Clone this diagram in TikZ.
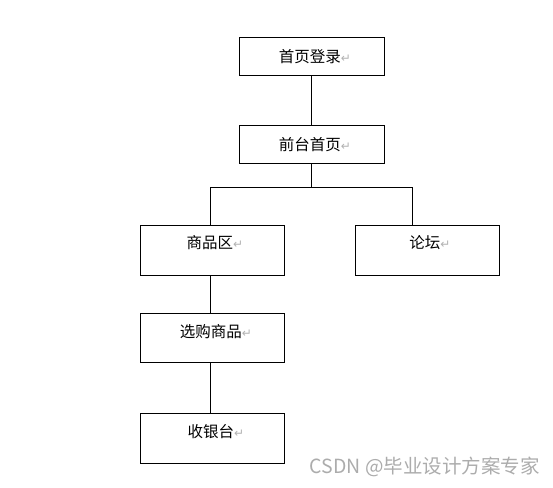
\documentclass[tikz,border=0pt]{standalone}
\usepackage{fontspec}
\setmainfont{Noto Sans CJK SC}
\newfontfamily\symfont{DejaVu Sans}
\newcommand{\rmark}{{\symfont\fontsize{12}{12}\selectfont\color{gray!60}\raisebox{0pt}{↵}}}
\begin{document}
\begin{tikzpicture}[x=1pt,y=-1pt,
  box/.style={draw=black,line width=1pt,inner sep=0pt,anchor=north west},
  lbl/.style={inner sep=0pt,font=\fontsize{15.5}{18}\selectfont},
  conn/.style={draw=black,line width=1pt}]
\useasboundingbox (0,0) rectangle (553,487);
\node[box,minimum width=145pt,minimum height=37pt] (b1) at (238.5,37.5) {};
\node[box,minimum width=145pt,minimum height=38pt] (b2) at (238.5,124.5) {};
\node[box,minimum width=144pt,minimum height=50pt] (b3) at (139.5,224.5) {};
\node[box,minimum width=144pt,minimum height=50pt] (b4) at (354.5,224.5) {};
\node[box,minimum width=144pt,minimum height=49pt] (b5) at (139.5,312.5) {};
\node[box,minimum width=144pt,minimum height=50pt] (b6) at (139.5,412.5) {};
\node[lbl] (t1) at (315,57) {首页登录\rmark};
\node[lbl] (t2) at (315,145) {前台首页\rmark};
\node[lbl] (t3) at (215,243) {商品区\rmark};
\node[lbl] (t4) at (430,243) {论坛\rmark};
\node[lbl] (t5) at (216,332) {选购商品\rmark};
\node[lbl] (t6) at (216,432) {收银台\rmark};
\coordinate (j) at (311.5,187.5);
\coordinate (jl) at (210.5,187.5);
\coordinate (jr) at (412.5,187.5);
\draw[conn] (b1.south -| j) -- (b2.north -| j);
\draw[conn] (b2.south -| j) -- (j);
\draw[conn] (b3.north -| jl) |- (jr) -- (b4.north -| jr);
\draw[conn] (b3.south -| jl) -- (b5.north -| jl);
\draw[conn] (b5.south -| jl) -- (b6.north -| jl);
\node[inner sep=0pt,anchor=east,text=gray!65,font=\fontsize{19.5}{21}\selectfont] (wm) at (540,467) {CSDN @毕业设计方案专家};
\end{tikzpicture}
\end{document}
